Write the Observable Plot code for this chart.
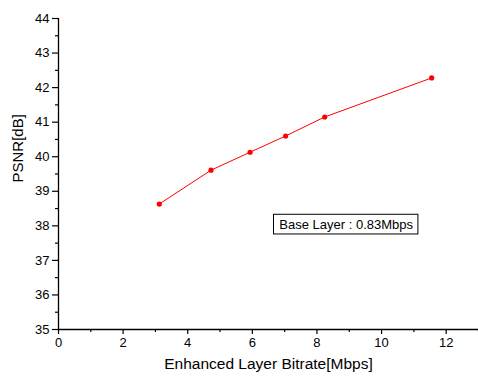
<!DOCTYPE html>
<html><head><meta charset="utf-8">
<script src="https://cdn.jsdelivr.net/npm/d3@7"></script>
<script src="https://cdn.jsdelivr.net/npm/@observablehq/plot@0.6"></script>
<style>
body{margin:0;background:#fff;}
svg{font-family:"Liberation Sans",Arial,sans-serif;}
</style></head>
<body><div id="chart"></div>
<script>
const bitrate = [3.12, 4.72, 5.93, 7.03, 8.24, 11.55];
const psnr = [38.63, 39.61, 40.13, 40.60, 41.15, 42.28];
const xTicks = [0, 2, 4, 6, 8, 10, 12];
const xMinor = [1, 3, 5, 7, 9, 11, 13];
const yTicks = [35, 36, 37, 38, 39, 40, 41, 42, 43, 44];
const yMinor = [35.5, 36.5, 37.5, 38.5, 39.5, 40.5, 41.5, 42.5, 43.5];
const xLabel = ["Enhanced Layer Bitrate[Mbps]"];
const yLabel = ["PSNR[dB]"];
const noteText = ["Base Layer : 0.83Mbps"];
const noteBox = [{x1: 6.67, x2: 11.14, y1: 37.75, y2: 38.32}];
const noteAt = [{x: 8.905, y: 38.035}];

const data = bitrate.map((b, i) => ({x: b, y: psnr[i]}));

const chart = Plot.plot({
  width: 478, height: 379,
  marginLeft: 58, marginRight: 0, marginTop: 18, marginBottom: 50,
  style: {fontFamily: '"Liberation Sans", Arial, sans-serif', fontSize: "13px", color: "#000", background: "#fff"},
  x: {domain: [0, 13]},
  y: {domain: [35, 44]},
  marks: [
    Plot.axisX(xMinor, {tickSize: 3, text: null, strokeWidth: 1.2, label: null}),
    Plot.axisX(xTicks, {tickSize: 5, tickPadding: 3, fontSize: 13, strokeWidth: 1.2, label: null}),
    Plot.axisY(yMinor, {tickSize: 3, text: null, strokeWidth: 1.2, label: null}),
    Plot.axisY(yTicks, {tickSize: 6, tickPadding: 3, fontSize: 13, strokeWidth: 1.2, label: null}),
    Plot.text(xLabel, {frameAnchor: "bottom", dy: 39.5, fontSize: 15.5, fill: "#000"}),
    Plot.text(yLabel, {frameAnchor: "left", rotate: -90, dx: -40.5, dy: 8.5, fontSize: 15, fill: "#000"}),
    Plot.ruleX([0], {stroke: "#000", strokeWidth: 1.3}),
    Plot.ruleY([35], {stroke: "#000", strokeWidth: 1.3}),
    Plot.line(data, {x: "x", y: "y", stroke: "#ff0000", strokeWidth: 1}),
    Plot.dot(data, {x: "x", y: "y", fill: "#ff0000", r: 2.6}),
    Plot.rect(noteBox, {x1: "x1", x2: "x2", y1: "y1", y2: "y2", fill: "none", stroke: "#000", strokeWidth: 1}),
    Plot.text(noteAt, {x: "x", y: "y", text: () => noteText[0], fontSize: 13, fill: "#000"})
  ]
});
document.getElementById("chart").appendChild(chart);
</script></body></html>
